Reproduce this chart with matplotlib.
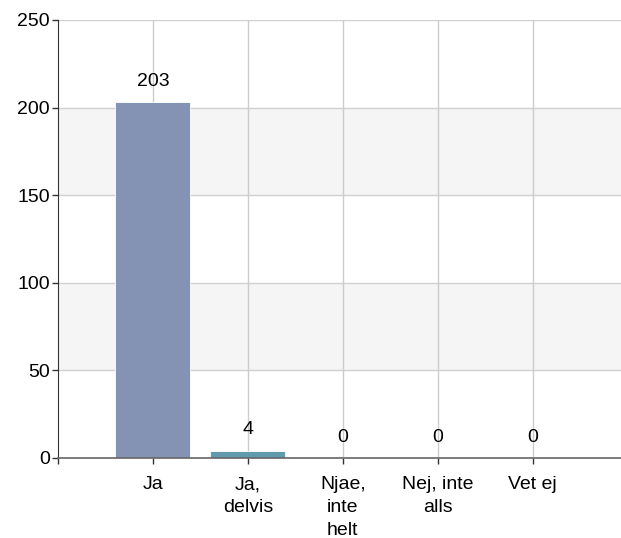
import numpy as np
import matplotlib.pyplot as plt

categories = ['Ja', 'Ja,\ndelvis', 'Njae,\ninte\nhelt', 'Nej, inte\nalls', 'Vet ej']
counts = [203, 4, 0, 0, 0]
bar_colors = ['#8493b3', '#5f9aad', '#8493b3', '#8493b3', '#8493b3']
y_ticks = [0, 50, 100, 150, 200, 250]

plt.rcParams['font.family'] = ['Liberation Sans', 'DejaVu Sans']

fig = plt.figure(figsize=(6.21, 5.38), dpi=100)
ax = fig.add_axes([58 / 621, 1 - 458 / 538, 1 - 58 / 621, 438 / 538])

x = np.arange(len(categories))

# alternating grey bands
for lo in y_ticks[1::2]:
    ax.axhspan(lo, lo + 50, color='#f5f5f5', zorder=0, lw=0)

for yv in y_ticks[1:]:
    ax.axhline(yv, color='#d0d0d0', lw=1, zorder=1)
for xv in x:
    ax.axvline(xv, color='#cccccc', lw=1, zorder=1)

ax.bar(x, counts, width=0.79, color=bar_colors, edgecolor='white', linewidth=0.6, zorder=2)

for xv, c in zip(x, counts):
    ax.annotate(str(c), (xv, c), xytext=(0, 9), textcoords='offset points',
                ha='center', va='bottom', fontsize=14, color='black', zorder=3)

ax.set_xlim(-1, 4.93)
ax.set_ylim(0, 250)
ax.set_yticks(y_ticks)
ax.set_xticks([-1] + list(x))
ax.set_xticklabels([''] + categories, fontsize=14, linespacing=1.45, va='top')
ax.tick_params(axis='y', labelsize=14, length=4, width=1, color='#333333', pad=2)
ax.tick_params(axis='x', length=4, width=1, color='#333333', pad=9)

for s in ['top', 'right']:
    ax.spines[s].set_visible(False)
ax.spines['left'].set_color('#333333')
ax.spines['bottom'].set_color('#666666')
ax.spines['bottom'].set_linewidth(1.2)
ax.spines['bottom'].set_zorder(4)

fig.savefig('out.png', dpi=100)
